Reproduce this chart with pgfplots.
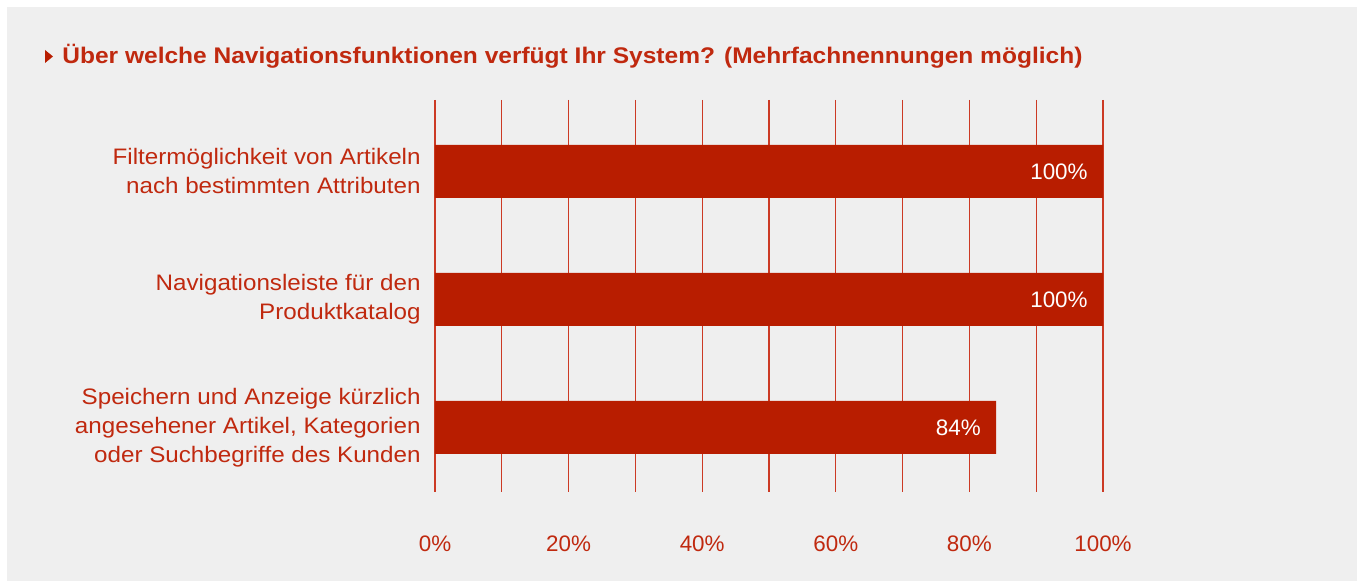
\documentclass[border=0pt]{standalone}
\usepackage{pgfplots}
\pgfplotsset{compat=1.18}
\usepackage{fontspec}
\setmainfont{Liberation Sans}
\newfontfamily\widelab[FakeStretch=1.08]{Liberation Sans}
\newfontfamily\widetitle[FakeStretch=1.085]{Liberation Sans}
\definecolor{bg}{HTML}{EFEFEF}
\definecolor{barred}{HTML}{B81D00}
\definecolor{txtred}{HTML}{C0290F}
\definecolor{gridred}{HTML}{CC3A24}
\begin{document}
\begin{tikzpicture}[x=1pt,y=1pt]
\useasboundingbox (0,0) rectangle (678.5,290.5);
\fill[white] (0,0) rectangle (678.5,290.5);
\fill[bg] (3.5,0) rectangle (678.5,287);
% title marker
\fill[barred] (22.5,265.5) -- (22.5,259) -- (26.5,262.25) -- cycle;
\node[anchor=west, inner sep=0pt, text=txtred, font=\widetitle\fontsize{11.3}{14}\selectfont\bfseries] at (31,262.3)
  {Über welche Navigationsfunktionen verfügt Ihr System? (Mehrfachnennungen möglich)};
\begin{axis}[
  at={(217.5pt,44.5pt)}, anchor=south west,
  scale only axis, width=334pt, height=196pt,
  xbar, bar width=26.5pt,
  xmin=0, xmax=100,
  ymin=0.4414, ymax=3.504, y dir=reverse,
  axis line style={draw=none},
  major tick length=0pt, minor tick length=0pt,
  xtick={0,20,40,60,80,100},
  xticklabels={0\%,20\%,40\%,60\%,80\%,100\%},
  minor xtick={10,30,50,70,90},
  xmajorgrids, xminorgrids,
  major grid style={draw=gridred, line width=0.6pt},
  minor grid style={draw=gridred, line width=0.6pt},
  ytick={1,2,3},
  yticklabels={{Filtermöglichkeit von Artikeln\\nach bestimmten Attributen},
               {Navigationsleiste für den\\Produktkatalog},
               {Speichern und Anzeige kürzlich\\angesehener Artikel, Kategorien\\oder Suchbegriffe des Kunden}},
  yticklabel style={align=right, text=txtred, font=\widelab\fontsize{11.2}{14.5}\selectfont, inner sep=0pt, xshift=-7pt},
  xticklabel style={text=txtred, font=\fontsize{11.2}{13}\selectfont, inner sep=0pt, yshift=-21.5pt},
  nodes near coords={\pgfmathprintnumber[assume math mode=true]{\pgfplotspointmeta}\%},
  every node near coord/.append style={anchor=east, inner sep=0pt, xshift=-7.5pt, text=white, font=\fontsize{11.2}{13}\selectfont},
]
\addplot[fill=barred, draw=none] coordinates {(100,1) (100,2) (84,3)};
\end{axis}
\end{tikzpicture}
\end{document}
